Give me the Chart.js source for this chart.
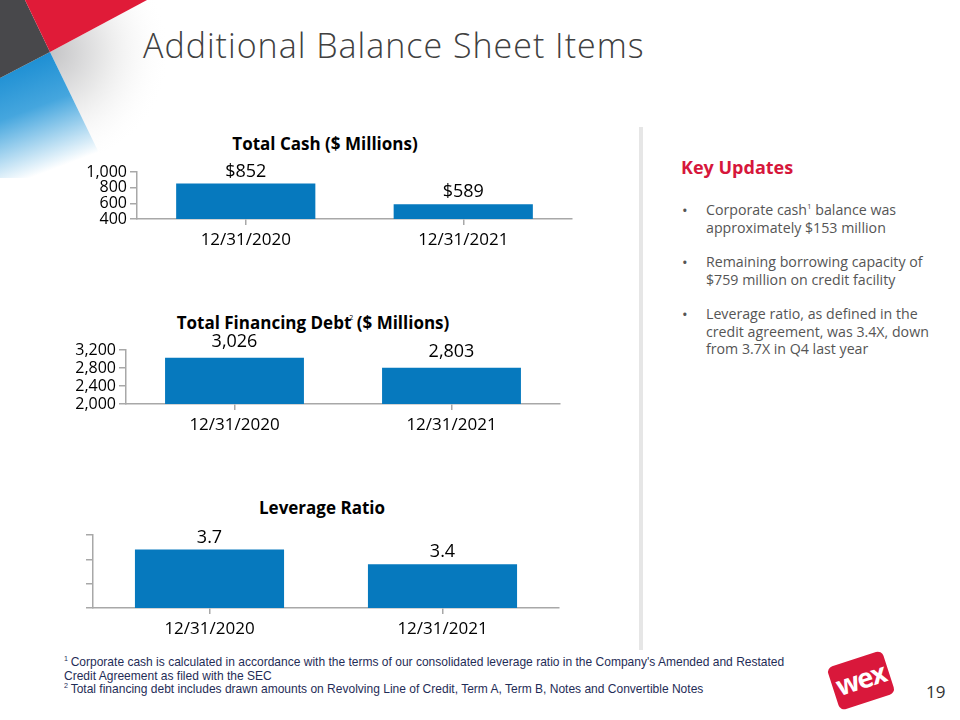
<!DOCTYPE html>
<html>
<head>
<meta charset="utf-8">
<script src="https://cdn.jsdelivr.net/npm/chart.js@4.4.1/dist/chart.umd.min.js"></script>
<style>
  html, body { margin: 0; padding: 0; background: #fff; }
  body { width: 960px; height: 720px; position: relative; overflow: hidden; font-family: "Open Sans", sans-serif; }
  .abs { position: absolute; }
  .slide-title { left: 143px; top: 22px; font-size: 34px; letter-spacing: 1px; color: #404040; font-weight: 300; white-space: nowrap; }
  .chart-title { font-weight: bold; font-size: 17px; color: #000; white-space: nowrap; transform: translateX(-50%); }
  .chart-title sup { font-size: 7px; font-weight: normal; vertical-align: 9px; line-height: 0; margin: 0 -1px 0 -2px; }
  .divider { left: 639px; top: 127px; width: 4px; height: 523px; background: #e6e6e6; }
  .key-head { left: 681px; top: 155px; color: #d6173b; font-weight: bold; font-size: 18px; }
  .bullets { left: 681px; top: 201px; width: 260px; margin: 0; padding: 0; list-style: none; color: #555; font-size: 14.2px; line-height: 17.5px; }
  .bullets li { position: relative; padding-left: 25px; margin-bottom: 17px; }
  .bullets li::before { content: "•"; position: absolute; left: 1px; top: 1px; font-size: 15px; line-height: 17.5px; color: #555; }
  .bullets sup { font-size: 8px; vertical-align: 6px; line-height: 0; }
  .foot { left: 64px; top: 655px; font-family: "Liberation Sans", Arial, sans-serif; font-size: 13.5px; line-height: 13.6px; color: #1f2d57; transform: scaleX(0.89); transform-origin: 0 0; white-space: nowrap; }
  .foot sup { font-size: 8px; vertical-align: 5px; line-height: 0; margin-right: 3px; }
  .logo { left: 832px; top: 658px; width: 58px; height: 45px; background: #d9183b; border-radius: 6px; transform: rotate(-18deg); color: #fff; font: bold 27px "Open Sans", sans-serif; text-align: center; line-height: 41px; letter-spacing: -1.5px; }
  .page { left: 926px; top: 680px; font-size: 17px; color: #333; }
</style>
</head>
<body>
<svg class="abs" style="left:0;top:0" width="320" height="200">
  <defs>
    <linearGradient id="blueFade" x1="0" y1="0" x2="0.3" y2="1">
      <stop offset="0" stop-color="#0e86cf"/>
      <stop offset="0.5" stop-color="#45a6de"/>
      <stop offset="1" stop-color="#ffffff"/>
    </linearGradient>
    <radialGradient id="grayFade" cx="50" cy="52" r="120" gradientUnits="userSpaceOnUse">
      <stop offset="0" stop-color="#c4c4c6"/>
      <stop offset="0.5" stop-color="#ececec"/>
      <stop offset="1" stop-color="#ffffff" stop-opacity="0"/>
    </radialGradient>
  </defs>
  <polygon points="50,52 147,0 260,0 200,90 100,155" fill="url(#grayFade)"/>
  <polygon points="0,78 50,52 100,155 85,178 0,178" fill="url(#blueFade)"/>
  <polygon points="0,0 25,0 50,52 0,78" fill="#48484b"/>
  <polygon points="25,0 147,0 50,52" fill="#e01b38"/>
</svg>

<div class="abs slide-title">Additional Balance Sheet Items</div>

<div class="abs chart-title" style="left:325px;top:132px">Total Cash ($ Millions)</div>
<div class="abs" style="left:60px;top:152px;width:522px;height:103px"><canvas id="cashChart"></canvas></div>

<div class="abs chart-title" style="left:313px;top:311px">Total Financing Debt<sup>2</sup> ($ Millions)</div>
<div class="abs" style="left:60px;top:330px;width:510px;height:110px"><canvas id="debtChart"></canvas></div>

<div class="abs chart-title" style="left:322px;top:496px">Leverage Ratio</div>
<div class="abs" style="left:60px;top:515px;width:509px;height:129px"><canvas id="ratioChart"></canvas></div>

<div class="abs divider"></div>

<div class="abs key-head">Key Updates</div>
<ul class="abs bullets">
  <li>Corporate cash<sup>1</sup> balance was approximately $153 million</li>
  <li>Remaining borrowing capacity of $759 million on credit facility</li>
  <li>Leverage ratio, as defined in the credit agreement, was 3.4X, down from 3.7X in Q4 last year</li>
</ul>

<div class="abs foot">
  <sup>1</sup>Corporate cash is calculated in accordance with the terms of our consolidated leverage ratio in the Company's Amended and Restated<br>
  Credit Agreement as filed with the SEC<br>
  <sup>2</sup>Total financing debt includes drawn amounts on Revolving Line of Credit, Term A, Term B, Notes and Convertible Notes
</div>

<div class="abs logo">wex</div>
<div class="abs page">19</div>

<script>
const dates = ['12/31/2020', '12/31/2021'];

const totalCash = [852, 589];
const cashLabels = ['$852', '$589'];
const cashRange = [400, 1000, 200];

const financingDebt = [3026, 2803];
const debtLabels = ['3,026', '2,803'];
const debtRange = [2000, 3200, 400];

const leverageRatio = [3.7, 3.4];
const ratioLabels = ['3.7', '3.4'];
const ratioRange = [2.5, 4.0, 0.5];

const barColor = '#0679be';
const axisColor = '#a8a8a8';
const textColor = '#000';

// draws the value above each bar
const valueLabels = {
  id: 'valueLabels',
  afterDatasetsDraw(chart, args, opts) {
    const ctx = chart.ctx;
    ctx.save();
    ctx.font = '18px "Open Sans", sans-serif';
    ctx.fillStyle = textColor;
    ctx.textAlign = 'center';
    ctx.textBaseline = 'bottom';
    chart.getDatasetMeta(0).data.forEach((bar, i) => {
      ctx.fillText(opts.labels[i], bar.x, bar.y - opts.gap);
    });
    ctx.restore();
  }
};

function makeChart(id, values, labels, range, yWidth, showY, gap) {
  new Chart(document.getElementById(id), {
    type: 'bar',
    data: {
      labels: dates,
      datasets: [{
        data: values,
        backgroundColor: barColor,
        categoryPercentage: 1,
        barPercentage: 0.64
      }]
    },
    options: {
      responsive: true,
      maintainAspectRatio: false,
      animation: false,
      layout: { padding: { top: 20, right: 10, left: 0, bottom: 0 } },
      plugins: {
        legend: { display: false },
        tooltip: { enabled: false },
        valueLabels: { labels: labels, gap: gap }
      },
      scales: {
        x: {
          afterFit: s => { s.height = 36; },
          border: { color: axisColor, width: 1.5 },
          grid: { offset: false, drawOnChartArea: false, drawTicks: true, tickLength: 6, color: axisColor, lineWidth: 1.5 },
          ticks: { color: textColor, padding: 5, font: { family: 'Open Sans', size: 17 } }
        },
        y: {
          min: range[0],
          max: range[1],
          afterFit: s => { s.width = yWidth; },
          border: { color: axisColor, width: 1.5 },
          grid: { drawOnChartArea: false, drawTicks: true, tickLength: 7, color: axisColor, lineWidth: 1.5 },
          ticks: {
            stepSize: range[2],
            autoSkip: false,
            padding: 3,
            color: textColor,
            font: { family: 'Open Sans', size: 16, lineHeight: 1 },
            callback: v => showY ? v.toLocaleString('en-US') : ''
          }
        }
      }
    },
    plugins: [valueLabels]
  });
}

makeChart('cashChart', totalCash, cashLabels, cashRange, 77, true, 3);
makeChart('debtChart', financingDebt, debtLabels, debtRange, 66, true, 7);
makeChart('ratioChart', leverageRatio, ratioLabels, ratioRange, 33, false, 3);
</script>
</body>
</html>
